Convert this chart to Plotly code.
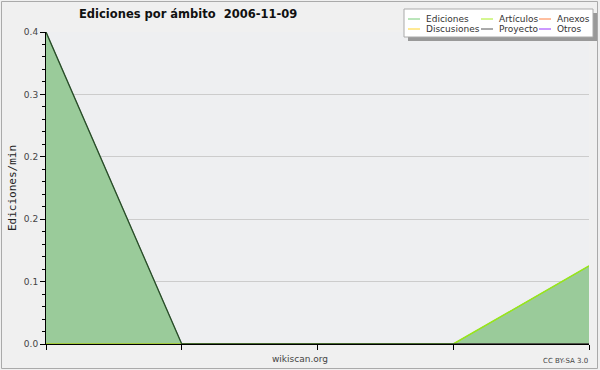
import plotly.graph_objects as go

# ---- data ----
x_positions = [0, 1, 2, 3, 4]
ediciones = [0.4, 0.0, 0.0, 0.0, 0.1]
articulos = [0.0, 0.0, 0.0, 0.0, 0.1]
anexos = [0.0, 0.0, 0.0, 0.0, 0.0]
discusiones = [0.0, 0.0, 0.0, 0.0, 0.0]
proyecto = [0.4, 0.0, 0.0, 0.0, 0.0]
otros = [0.0, 0.0, 0.0, 0.0, 0.0]

y_tickvals = [0.0, 0.08, 0.16, 0.24, 0.32, 0.4]
y_ticktext = ["0.0", "0.1", "0.2", "0.2", "0.3", "0.4"]

legend_names = [["Ediciones", "Artículos", "Anexos"], ["Discusiones", "Proyecto", "Otros"]]
legend_colors = [["#77cc77", "#aaee22", "#ff7f40"], ["#ffd42a", "#555555", "#9933ff"]]

title_text = "Ediciones por ámbito  2006-11-09"

fig = go.Figure()

fig.add_trace(go.Scatter(x=x_positions, y=ediciones, mode="lines", fill="tozeroy",
                         fillcolor="#9acb9a", line=dict(color="#77bb77", width=1), showlegend=False))
fig.add_trace(go.Scatter(x=x_positions, y=anexos, mode="lines", line=dict(color="#ff7f40", width=1), showlegend=False))
fig.add_trace(go.Scatter(x=x_positions, y=discusiones, mode="lines", line=dict(color="#ffd42a", width=1), showlegend=False))
fig.add_trace(go.Scatter(x=x_positions, y=otros, mode="lines", line=dict(color="#9933ff", width=1), showlegend=False))
fig.add_trace(go.Scatter(x=x_positions, y=articulos, mode="lines", line=dict(color="#99e619", width=1.5), showlegend=False))
fig.add_trace(go.Scatter(x=x_positions, y=proyecto, mode="lines", line=dict(color="#2a4a2a", width=1.3), showlegend=False))

W, H = 600, 370
L, R, T, B = 46, 11, 32, 26
pw, ph = W - L - R, H - T - B

def px(xp):
    return (xp - L) / pw

def py(yp):
    return (H - B - yp) / ph

shapes = []
# outer frame
shapes.append(dict(type="rect", xref="paper", yref="paper", x0=px(1.5), x1=px(597.5), y0=py(368.5), y1=py(1.5),
                   line=dict(color="#aaaaaa", width=1), fillcolor="rgba(0,0,0,0)", layer="below"))
# legend shadow and box
shapes.append(dict(type="rect", xref="paper", yref="paper", x0=px(408), x1=px(597), y0=py(41), y1=py(13),
                   line=dict(width=0), fillcolor="#999999", layer="above"))
shapes.append(dict(type="rect", xref="paper", yref="paper", x0=px(404), x1=px(593), y0=py(37), y1=py(9),
                   line=dict(color="#aaaaaa", width=1), fillcolor="#ffffff", layer="above"))

annotations = []
col_line_x = [408, 481, 539]
col_text_x = [424, 497, 555]
row_y = [19, 29]
for r in range(2):
    for c in range(3):
        shapes.append(dict(type="line", xref="paper", yref="paper",
                           x0=px(col_line_x[c]), x1=px(col_line_x[c] + 12),
                           y0=py(row_y[r]), y1=py(row_y[r]),
                           line=dict(color=legend_colors[r][c], width=1), layer="above"))
        annotations.append(dict(xref="paper", yref="paper", x=px(col_text_x[c]), y=py(row_y[r]),
                                text=legend_names[r][c], showarrow=False, xanchor="left", yanchor="middle",
                                font=dict(family="DejaVu Sans", size=9, color="#333333")))

annotations.append(dict(xref="paper", yref="paper", x=px(188), y=py(14), text="<b>" + title_text + "</b>",
                        showarrow=False, xanchor="center", yanchor="middle",
                        font=dict(family="DejaVu Sans", size=11.5, color="#111111")))
annotations.append(dict(xref="paper", yref="paper", x=px(300), y=py(359), text="wikiscan.org",
                        showarrow=False, xanchor="center", yanchor="middle",
                        font=dict(family="DejaVu Sans", size=9, color="#444444")))
annotations.append(dict(xref="paper", yref="paper", x=px(590), y=py(361), text="CC BY-SA 3.0",
                        showarrow=False, xanchor="right", yanchor="middle",
                        font=dict(family="DejaVu Sans", size=7, color="#444444")))
annotations.append(dict(xref="paper", yref="paper", x=px(12), y=0.5, text="Ediciones/min", textangle=-90,
                        showarrow=False, xanchor="center", yanchor="middle",
                        font=dict(family="DejaVu Sans Mono", size=11, color="#222222")))

fig.update_layout(
    width=W, height=H,
    margin=dict(l=L, r=R, t=T, b=B, pad=0),
    paper_bgcolor="#f0f0f0",
    plot_bgcolor="#eeeff1",
    showlegend=False,
    shapes=shapes,
    annotations=annotations,
    xaxis=dict(range=[0, 4], tickvals=x_positions, ticktext=["" for _ in x_positions],
               showgrid=False, zeroline=False, showline=True, linecolor="#000000", linewidth=1,
               ticks="outside", ticklen=5, tickcolor="#000000", fixedrange=True),
    yaxis=dict(range=[0, 0.4], tickvals=y_tickvals, ticktext=y_ticktext,
               showgrid=True, gridcolor="#cccccc", gridwidth=1, zeroline=False,
               showline=True, linecolor="#000000", linewidth=1,
               ticks="outside", ticklen=5, tickcolor="#000000",
               tickfont=dict(family="DejaVu Sans", size=9, color="#444444"),
               minor=dict(dtick=0.016, tick0=0, ticks="outside", ticklen=3, tickcolor="#000000", showgrid=False),
               fixedrange=True),
)

fig.write_html("out.html", config={"displayModeBar": False},
               post_script="document.body.style.margin='0';document.body.style.padding='0';")
